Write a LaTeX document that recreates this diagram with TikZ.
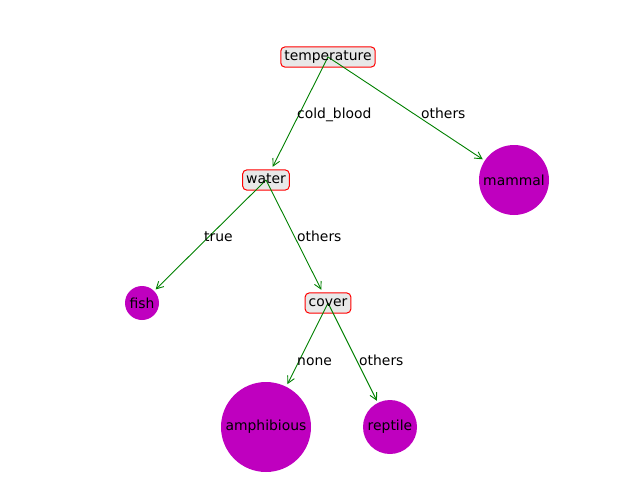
\documentclass[tikz,border=0pt]{standalone}
\usepackage{fontspec}
\setmainfont{DejaVu Sans}
\usetikzlibrary{arrows.meta,calc}
\definecolor{mpm}{rgb}{0.75,0,0.75}
\definecolor{mpg}{rgb}{0,0.5,0}
\definecolor{boxfill}{gray}{0.91}
\begin{document}
\begin{tikzpicture}[x=1pt,y=-1pt, font=\fontsize{13.9}{16}\selectfont,
 decision/.style={draw=red, fill=boxfill, rounded corners=4pt, inner xsep=3.5pt, inner ysep=3.2pt, text height=10.5pt, text depth=3.2pt, line width=1pt},
 txt/.style={inner sep=0pt, text height=10.5pt, text depth=3.2pt},
 leaf/.style={circle, fill=mpm, inner sep=0pt, minimum size=#1},
 edge/.style={draw=mpg, line width=0.9pt, -{Straight Barb[length=7pt,width=7.5pt]}},
 elabel/.style={anchor=base west, inner sep=0pt}]
\useasboundingbox (0,0) rectangle (640,480);
% decision boxes
\node[decision] (t) at (328,57) {\phantom{temperature}};
\node[decision] (w) at (266,180) {\phantom{water}};
\node[decision] (c) at (328,303) {\phantom{cover}};
% leaves
\node[leaf=70pt] (m) at (514,180) {mammal};
\node[leaf=34pt] (f) at (142,303) {fish};
\node[leaf=90pt] (a) at (266,427) {amphibious};
\node[leaf=54pt] (r) at (390,427) {reptile};
% edges
\draw[edge] (t.center) -- ($(w.center)!14.8pt!(t.center)$);
\draw[edge] (t.center) -- ($(m.center)!37.5pt!(t.center)$);
\draw[edge] (w.center) -- ($(f.center)!19.2pt!(w.center)$);
\draw[edge] (w.center) -- ($(c.center)!14.8pt!(w.center)$);
\draw[edge] (c.center) -- ($(a.center)!48pt!(c.center)$);
\draw[edge] (c.center) -- ($(r.center)!29.3pt!(c.center)$);
% box texts
\node[txt] (tt) at (t.center) {temperature};
\node[txt] (wt) at (w.center) {water};
\node[txt] (ct) at (c.center) {cover};
% edge labels
\node[elabel] (l1) at ($(t.center)!0.5!(w.center)$) {cold\_blood};
\node[elabel] (l2) at ($(t.center)!0.5!(m.center)$) {others};
\node[elabel] (l3) at ($(w.center)!0.5!(f.center)$) {true};
\node[elabel] (l4) at ($(w.center)!0.5!(c.center)$) {others};
\node[elabel] (l5) at ($(c.center)!0.5!(a.center)$) {none};
\node[elabel] (l6) at ($(c.center)!0.5!(r.center)$) {others};
\end{tikzpicture}
\end{document}
